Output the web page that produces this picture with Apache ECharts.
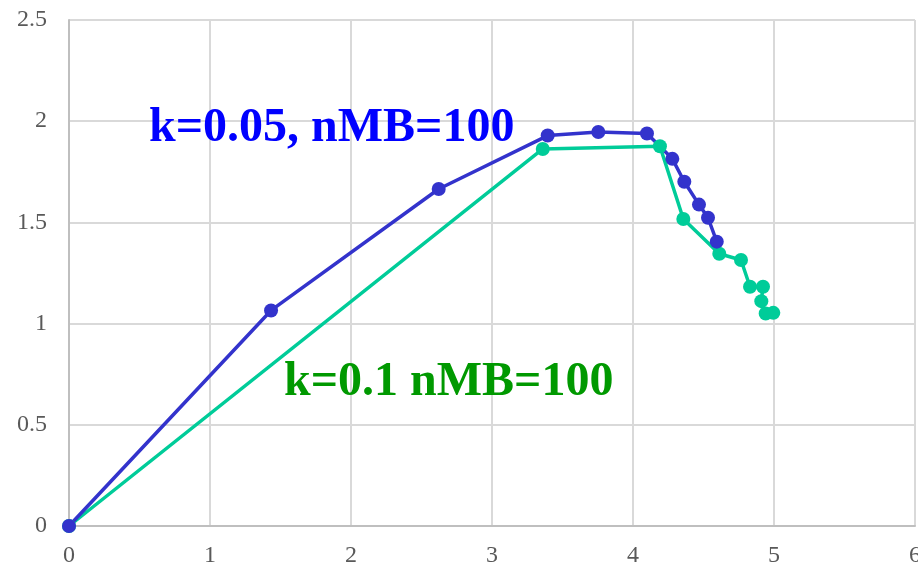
<!DOCTYPE html>
<html>
<head>
<meta charset="utf-8">
<script src="https://cdn.jsdelivr.net/npm/echarts@6/dist/echarts.min.js"></script>
<style>html,body{margin:0;padding:0;background:#fff;}#chart{width:918px;height:565px;}</style>
</head>
<body>
<div id="chart"></div>
<script>
var blueX = [0, 1.433, 2.622, 3.395, 3.754, 4.099, 4.279, 4.364, 4.468, 4.532, 4.594];
var blueY = [0, 1.065, 1.665, 1.929, 1.947, 1.939, 1.814, 1.701, 1.588, 1.523, 1.405];
var greenX = [0, 3.360, 4.191, 4.357, 4.612, 4.766, 4.830, 4.922, 4.910, 4.941, 4.995];
var greenY = [0, 1.863, 1.876, 1.517, 1.345, 1.314, 1.182, 1.182, 1.111, 1.050, 1.053];
var blueLabel = 'k=0.05, nMB=100';
var greenLabel = 'k=0.1 nMB=100';

function pairs(xs, ys) { return xs.map(function (x, i) { return [x, ys[i]]; }); }

var chart = echarts.init(document.getElementById('chart'), null, {renderer: 'canvas'});
var labelFont = {fontFamily: 'Liberation Serif', fontSize: 24, color: '#595959'};
chart.setOption({
  animation: false,
  grid: {left: 69, right: 3, top: 20, bottom: 39, containLabel: false, outerBoundsMode: 'none'},
  xAxis: {
    type: 'value', min: 0, max: 6, interval: 1,
    axisLine: {show: true, lineStyle: {color: '#bfbfbf', width: 2}},
    axisTick: {show: false},
    splitLine: {show: true, lineStyle: {color: '#d9d9d9', width: 2}},
    axisLabel: Object.assign({margin: 18, hideOverlap: false}, labelFont)
  },
  yAxis: {
    type: 'value', min: 0, max: 2.5, interval: 0.5,
    axisLine: {show: true, lineStyle: {color: '#bfbfbf', width: 2}},
    axisTick: {show: false},
    splitLine: {show: true, lineStyle: {color: '#d9d9d9', width: 2}},
    axisLabel: Object.assign({margin: 22}, labelFont)
  },
  series: [
    {
      type: 'line', data: pairs(greenX, greenY),
      symbol: 'circle', symbolSize: 14, showSymbol: true,
      lineStyle: {color: '#00CC99', width: 3.5},
      itemStyle: {color: '#00CC99'}
    },
    {
      type: 'line', data: pairs(blueX, blueY),
      symbol: 'circle', symbolSize: 14, showSymbol: true,
      lineStyle: {color: '#3333CC', width: 3.5},
      itemStyle: {color: '#3333CC'}
    }
  ],
  graphic: [
    {type: 'text', left: 149, top: 105, z: 100,
     style: {text: blueLabel, fill: '#0000FF', font: 'bold 48px "Liberation Serif"'}},
    {type: 'text', left: 284, top: 359, z: 100,
     style: {text: greenLabel, fill: '#009900', font: 'bold 48px "Liberation Serif"'}}
  ]
});
</script>
</body>
</html>
